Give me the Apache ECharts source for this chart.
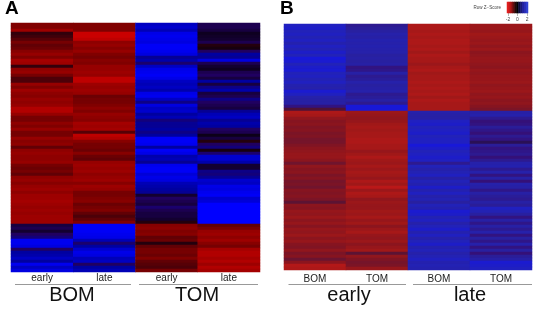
<!DOCTYPE html>
<html><head><meta charset="utf-8">
<style>html,body{margin:0;padding:0;background:#fff}#c{width:538px;height:311px;filter:blur(0.45px)}</style>
<script src="https://cdn.jsdelivr.net/npm/echarts@6/dist/echarts.min.js"></script>
</head><body><div id="c"></div>
<script>
var columnsA = ['early','late','early','late'];
var columnsB = ['BOM','TOM','BOM','TOM'];
var groupsA = ['BOM','TOM'];
var groupsB = ['early','late'];
var legendTicks = ['-2','0','2'];

var a1 = [-1.0,-1.0,-1.4,-0.3,-0.4,-0.6,-0.9,-0.7,-0.8,-1.1,
-1.3,-1.0,-1.5,-1.4,-0.3,-1.2,-1.3,-0.9,-0.5,-0.5,
-1.3,-1.0,-1.4,-1.2,-1.1,-1.3,-1.2,-1.3,-1.6,-1.6,
-1.3,-0.9,-0.9,-1.2,-1.0,-1.3,-0.9,-0.9,-1.3,-1.1,
-1.2,-0.7,-1.2,-1.3,
-1.2,-1.2,-1.3,-0.9,-0.8,-0.9,-0.7,-1.2,-1.3,-1.1,
-1.3,-1.4,-1.2,-1.4,-1.4,-1.5,-1.4,-1.3,-1.4,-1.3,
-1.4,-1.4,-1.4,
0.3,0.4,0.2,0.5,0.7,1.8,1.8,1.6,0.5,1.0,
1.1,1.3,1.0,1.8,1.3,1.6];
var a2 = [-1.0,-1.0,-1.0,-1.8,-1.8,-1.7,-1.2,-1.3,-1.1,-1.3,
-1.0,-0.9,-1.1,-1.0,-1.3,-1.3,-1.4,-1.3,-1.7,-1.7,
-1.4,-1.3,-1.4,-1.3,-0.8,-0.9,-0.9,-1.0,-1.2,-1.0,
-1.3,-1.2,-1.1,-1.5,-1.4,-1.5,-0.6,-1.7,-1.6,-1.1,
-0.9,-0.9,-0.8,-1.1,
-0.8,-0.7,-1.3,-1.4,-1.3,-1.4,-1.2,-1.3,-1.4,-1.1,
-1.4,-1.3,-0.9,-0.9,-1.0,-1.1,-0.8,-0.9,-1.0,-0.7,
-0.5,-0.7,-1.0,
1.9,1.9,1.9,1.8,1.7,1.2,0.6,1.0,1.4,1.7,
1.6,1.2,1.3,0.5,1.0,1.2];
var a3 = [1.3,1.4,1.2,1.7,1.8,1.7,1.6,1.9,1.9,1.8,
1.6,0.9,1.1,0.6,1.3,1.7,1.8,1.9,1.7,1.3,
1.2,1.3,1.1,1.7,1.8,1.3,0.8,1.6,1.3,1.4,
1.0,1.2,0.7,0.9,0.9,1.0,0.8,1.0,1.9,1.9,
1.8,1.0,1.9,1.7,
1.1,1.2,0.9,1.8,1.9,1.9,1.5,1.7,1.6,1.2,
1.1,1.0,0.9,0.2,0.5,0.4,0.3,0.6,0.4,0.3,
0.3,0.2,-0.2,
-1.1,-1.2,-1.0,-1.1,-0.7,-0.8,-0.2,-0.7,-0.9,-0.9,
-0.8,-1.0,-0.7,-0.6,-0.5,-0.9];
var a4 = [0.4,0.4,0.3,0.1,0.15,0.2,0.4,-0.2,-0.1,0.5,
1.0,0.9,1.6,0.4,0.2,0.1,0.4,0.5,0.3,1.0,
0.3,0.8,1.1,0.3,0.4,0.8,0.5,0.4,0.3,0.9,
1.2,1.3,0.9,1.1,1.0,0.5,0.4,0.05,0.3,-0.2,
0.5,0.7,-0.1,0.6,
1.4,1.4,1.1,0.2,0.2,0.8,0.7,0.9,1.4,1.3,
1.7,1.6,1.8,1.9,1.4,1.5,2,2,2,2,
2,2,2,
-0.7,-0.9,-1.3,-1.4,-1.2,-1.4,-1.1,-0.9,-1.5,-1.6,
-1.6,-1.5,-1.6,-1.4,-1.6,-1.5];

var b1 = [1.6,1.7,1.5,1.6,1.4,1.6,1.3,1.6,1.4,1.7,
1.5,1.9,1.8,1.5,1.7,1.8,1.5,1.6,1.4,1.6,
1.3,1.2,1.8,1.6,1.2,1.1,1.1,0.6,-0.3,
-1.7,-1.6,-1.2,-1.0,-1.1,-0.9,-1.0,-0.8,-0.9,-0.7,
-0.7,-0.9,-1.1,-1.2,-1.3,
-1.3,-1.1,-0.6,-1.2,-1.0,-1.1,-0.8,-1.0,-0.7,-0.8,
-0.6,-1.0,-0.9,-1.0,-0.8,-0.4,-1.1,-1.0,-1.3,-1.2,
-1.4,-1.1,-1.3,-1.0,-1.3,-1.2,-1.4,-1.1,-1.3,-1.0,
-0.9,-1.2,-0.8,-1.0,-0.5,-1.1,-1.8,-1.7];
var b2 = [0.8,0.9,1.0,1.2,1.1,1.3,1.2,1.3,1.2,1.2,
1.0,1.1,1.0,1.1,0.6,0.7,1.1,0.8,0.9,1.2,
1.0,1.1,1.2,0.8,0.9,1.1,0.8,1.9,1.9,
-1.4,-1.3,-1.2,-1.3,-1.5,-1.6,-1.5,-1.6,-1.6,-1.7,
-1.7,-1.6,-1.6,-1.3,-1.5,
-1.7,-1.5,-1.4,-1.6,-1.4,-1.6,-1.5,-1.3,-1.7,-1.5,
-1.9,-1.4,-1.7,-1.6,-1.2,-1.4,-1.3,-1.3,-1.5,-1.4,
-1.6,-1.3,-1.5,-1.1,-1.4,-1.6,-1.3,-1.2,-1.4,-1.1,
-1.3,-1.5,-0.4,-1.2,-0.9,-0.7,-0.8,-1.3];
var b3 = [-1.7,-1.7,-1.6,-1.7,-1.6,-1.7,-1.7,-1.6,-1.7,-1.5,
-1.7,-1.6,-1.6,-1.4,-1.6,-1.7,-1.5,-1.6,-1.6,-1.7,
-1.6,-1.7,-1.6,-1.7,-1.5,-1.7,-1.6,-1.6,-1.6,
1.2,1.1,1.1,1.6,1.7,1.5,1.6,1.7,1.5,1.6,
1.6,1.9,1.7,1.5,1.6,
1.7,1.6,0.8,1.5,1.2,1.4,1.6,1.1,1.5,1.3,
1.7,1.3,1.6,1.2,1.4,1.0,1.5,1.3,1.8,1.7,
1.4,1.6,1.2,1.5,1.7,1.3,1.6,1.2,1.5,1.7,
1.3,1.5,1.2,1.4,1.6,1.3,1.4,1.3];
var b4 = [-1.4,-1.4,-1.3,-1.5,-1.4,-1.3,-1.4,-1.2,-1.4,-1.1,
-1.2,-1.3,-1.3,-1.2,-1.1,-1.3,-1.2,-1.3,-1.3,-1.4,
-1.2,-1.3,-1.4,-1.2,-1.3,-1.1,-1.2,-1.0,-0.8,
1.1,1.2,0.8,0.5,0.6,0.9,0.7,0.5,0.8,0.6,
0.2,0.9,0.6,0.7,0.8,
0.5,0.8,1.2,1.3,0.8,1.2,0.6,1.1,0.5,1.2,
1.1,0.7,1.1,0.9,0.8,1.1,0.9,1.6,1.4,1.0,
0.6,1.1,0.7,1.1,0.8,1.2,0.6,1.0,0.7,1.2,
0.6,1.0,0.5,0.9,1.1,1.8,1.7,1.6];
var legendValues = [-2,-1.6,-1.2,-0.8,-0.4,0,0.4,0.8,1.2,1.6,2];

var rampA = ['#e40000','#a40000','#800000','#4c0008','#0a0010','#200060','#0000a0','#0000d8','#0000ff'];
var rampB = ['#c01818','#a01818','#861420','#6a1430','#241040','#341078','#2820a0','#2222b8','#1616e0'];
var rampL = ['#e02020','#c01818','#801010','#300808','#000000','#101050','#202090','#2828b0','#3040d0'];

function cells(cols){
  var out=[];
  cols.forEach(function(col,x){
    col.forEach(function(v,i){ out.push([x,col.length-1-i,v]); });
  });
  return out;
}
function rowCats(n){var r=[];for(var i=0;i<n;i++)r.push(i);return r;}
function heat(idx,data){
  return {type:'heatmap',xAxisIndex:idx,yAxisIndex:idx,data:data,progressive:0,itemStyle:{borderWidth:0},emphasis:{disabled:true}};
}
function xA(idx,cats,margin){
  return {type:'category',gridIndex:idx,data:cats,position:'bottom',axisLine:{show:false},axisTick:{show:false},
    splitLine:{show:false},axisLabel:{color:'#222',fontSize:10,fontFamily:'Liberation Sans',margin:margin}};
}
function yA(idx,n){
  return {type:'category',gridIndex:idx,data:rowCats(n),axisLine:{show:false},axisTick:{show:false},axisLabel:{show:false},splitLine:{show:false}};
}
function vm(idx,ramp){
  return {type:'continuous',show:false,seriesIndex:idx,min:-2,max:2,inRange:{color:ramp}};
}
function bigText(x,t){
  return {type:'text',style:{x:x,y:295,text:t,align:'center',verticalAlign:'middle',fill:'#111',font:'20px "Liberation Sans"'}};
}
function rule(x1,x2){
  return {type:'line',shape:{x1:x1,y1:284.5,x2:x2,y2:284.5},style:{stroke:'#999',lineWidth:1}};
}
function letter(x,t){
  return {type:'text',style:{x:x,y:9,text:t,align:'left',verticalAlign:'middle',fill:'#000',font:'bold 19px "Liberation Sans"'}};
}
function isLegendTick(i,v){ return legendTicks.indexOf(String(v))>=0; }

var chart = echarts.init(document.getElementById('c'),null,{renderer:'canvas'});
chart.setOption({
  animation:false,
  backgroundColor:'#fff',
  grid:[
    {left:11,top:23,width:249,height:249},
    {left:284,top:24,width:248,height:246},
    {left:507,top:2,width:21,height:11}
  ],
  xAxis:[
    xA(0,columnsA,1),
    xA(1,columnsB,4),
    {type:'category',gridIndex:2,data:legendValues,axisLine:{show:false},
      axisTick:{show:true,length:3,alignWithLabel:true,interval:isLegendTick,lineStyle:{color:'#666',width:0.5}},
      splitLine:{show:false},
      axisLabel:{color:'#444',fontSize:5,margin:4,fontFamily:'Liberation Sans',interval:isLegendTick}}
  ],
  yAxis:[yA(0,a1.length),yA(1,b1.length),yA(2,1)],
  visualMap:[vm(0,rampA),vm(1,rampB),vm(2,rampL)],
  series:[
    heat(0,cells([a1,a2,a3,a4])),
    heat(1,cells([b1,b2,b3,b4])),
    heat(2,legendValues.map(function(v,i){return [i,0,v];}))
  ],
  graphic:[
    letter(5,'A'),letter(280,'B'),
    rule(15,131),rule(139,258),rule(288.5,406),rule(413,532),
    bigText(72,groupsA[0]),bigText(197,groupsA[1]),
    bigText(349,groupsB[0]),bigText(470,groupsB[1]),
    {type:'text',style:{x:501,y:7.5,text:'Row Z\u2212Score',align:'right',verticalAlign:'middle',fill:'#444',font:'4.5px "Liberation Sans"'}}
  ]
});
</script></body></html>
